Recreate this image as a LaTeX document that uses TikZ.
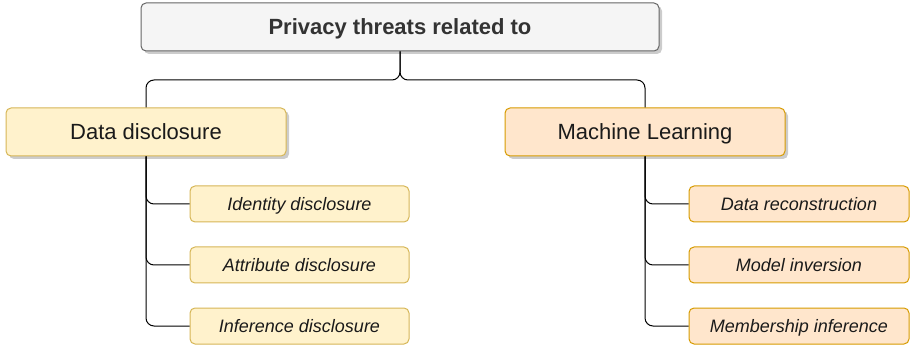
\documentclass[tikz,border=0pt]{standalone}
\usepackage{fontspec}
\setmainfont{Liberation Sans}
\usetikzlibrary{shadows}
\definecolor{ylwfill}{HTML}{FFF2CC}
\definecolor{ylwline}{HTML}{D6B656}
\definecolor{orgfill}{HTML}{FFE6CC}
\definecolor{orgline}{HTML}{D79B00}
\definecolor{grayfill}{HTML}{F5F5F5}
\definecolor{grayline}{HTML}{666666}
\definecolor{txt}{HTML}{1A1A1A}
\definecolor{toptxt}{HTML}{333333}
\tikzset{
  boxbase/.style={rounded corners=5pt, line width=1pt, inner sep=0pt, text=txt, text depth=0pt},
  topbox/.style={boxbase, draw=grayline, fill=grayfill, minimum width=518pt, minimum height=48pt,
    text=toptxt, font=\fontsize{22}{24}\selectfont\bfseries, text height=15.8pt,
    drop shadow={shadow xshift=3pt, shadow yshift=-3pt, opacity=0.2, fill=black}},
  catY/.style={boxbase, draw=ylwline, fill=ylwfill, minimum width=280pt, minimum height=48pt,
    font=\fontsize{22}{24}\selectfont, text height=15.8pt,
    drop shadow={shadow xshift=3pt, shadow yshift=-3pt, opacity=0.2, fill=black}},
  catO/.style={catY, draw=orgline, fill=orgfill},
  leafY/.style={boxbase, draw=ylwline, fill=ylwfill, minimum width=219pt, minimum height=36pt,
    font=\fontsize{18}{20}\selectfont\itshape, text height=13pt},
  leafO/.style={leafY, draw=orgline, fill=orgfill, minimum width=220pt},
  conn/.style={draw=black, line width=1pt, rounded corners=8pt}
}
\begin{document}
\begin{tikzpicture}[x=1pt,y=-1pt]
\useasboundingbox (0,0) rectangle (910,347);
\node[topbox] (top) at (400,27) {Privacy threats related to};
\node[catY] (dd) at (146,132) {Data disclosure};
\node[catO] (ml) at (645,132) {Machine Learning};
\node[leafY] (l1) at (299.5,204) {Identity disclosure};
\node[leafY] (l2) at (299.5,265) {Attribute disclosure};
\node[leafY] (l3) at (299.5,326) {Inference disclosure};
\node[leafO] (r1) at (799,204) {Data reconstruction};
\node[leafO] (r2) at (799,265) {Model inversion};
\node[leafO] (r3) at (799,326) {Membership inference};
\coordinate (hy) at (0,80);
\path[conn] (top.south) -- (top.south |- hy) -| (dd.north);
\path[conn] (top.south) -- (top.south |- hy) -| (ml.north);
\foreach \c in {l1,l2,l3} {\path[conn] (dd.south) |- (\c.west);}
\foreach \c in {r1,r2,r3} {\path[conn] (ml.south) |- (\c.west);}
\end{tikzpicture}
\end{document}
